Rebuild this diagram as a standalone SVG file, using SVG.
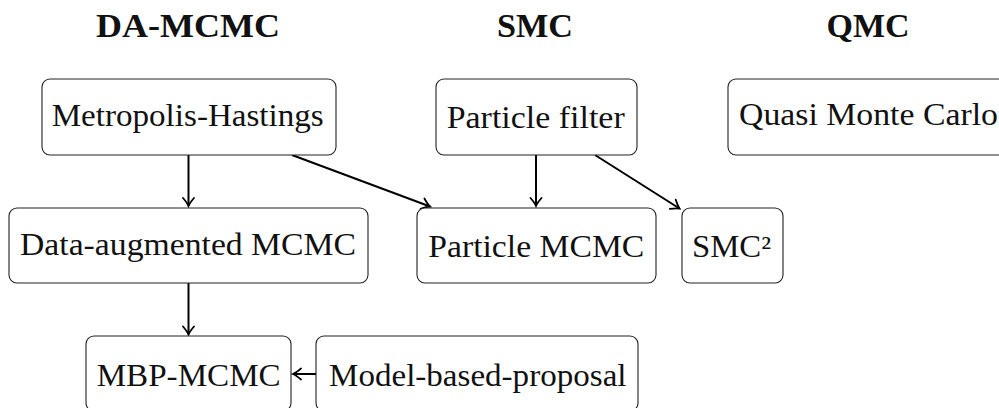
<svg xmlns="http://www.w3.org/2000/svg" width="999" height="408" viewBox="0 0 999 408">
<style>
.box{fill:#fff;stroke:#222;stroke-width:1.1}
.t{font-family:"Liberation Serif","Times New Roman",serif;font-size:31px;fill:#111}
.h{font-family:"Liberation Serif","Times New Roman",serif;font-size:33px;font-weight:bold;fill:#111;text-anchor:middle}
.e{fill:none;stroke:#000;stroke-width:2}
</style>
<defs>
<marker id="arr" markerUnits="userSpaceOnUse" viewBox="-10 -7 12 14" markerWidth="12" markerHeight="14" refX="0" refY="0" orient="auto">
<path d="M-8,-5.5 Q-3,-1.2 0,0 Q-3,1.2 -8,5.5" fill="none" stroke="#000" stroke-width="1.8" stroke-linecap="round"/>
</marker>
</defs>
<rect width="999" height="408" fill="#fff"/>
<g id="headers">
<text class="h" x="188" y="37" textLength="184" lengthAdjust="spacingAndGlyphs">DA-MCMC</text>
<text class="h" x="535" y="37" textLength="76" lengthAdjust="spacingAndGlyphs">SMC</text>
<text class="h" x="868" y="37" textLength="83" lengthAdjust="spacingAndGlyphs">QMC</text>
</g>
<g id="connectors">
<path class="e" d="M188.5,155 L188.5,206" marker-end="url(#arr)"/>
<path class="e" d="M292,155 L430,206.5" marker-end="url(#arr)"/>
<path class="e" d="M536,155 L536,206" marker-end="url(#arr)"/>
<path class="e" d="M595,155 L679.5,208.5" marker-end="url(#arr)"/>
<path class="e" d="M188.5,283 L188.5,334.5" marker-end="url(#arr)"/>
<path class="e" d="M316,374 L293,374" marker-end="url(#arr)"/>
</g>
<g id="mh">
<rect class="box" x="42" y="79" width="294" height="76" rx="8"/>
<text class="t" x="51.7" y="125.7" textLength="272" lengthAdjust="spacingAndGlyphs">Metropolis-Hastings</text>
</g>
<g id="pf">
<rect class="box" x="436" y="79" width="201" height="76" rx="8"/>
<text class="t" x="446.7" y="128.3" textLength="178" lengthAdjust="spacingAndGlyphs">Particle filter</text>
</g>
<g id="qmc">
<rect class="box" x="728" y="79" width="285" height="76" rx="8"/>
<text class="t" x="739" y="125" textLength="259" lengthAdjust="spacingAndGlyphs">Quasi Monte Carlo</text>
</g>
<g id="da">
<rect class="box" x="9" y="208" width="359" height="75" rx="8"/>
<text class="t" x="20" y="255" textLength="336" lengthAdjust="spacingAndGlyphs">Data-augmented MCMC</text>
</g>
<g id="pmcmc">
<rect class="box" x="417" y="208" width="239" height="75" rx="8"/>
<text class="t" x="428.3" y="256.7" textLength="216" lengthAdjust="spacingAndGlyphs">Particle MCMC</text>
</g>
<g id="smc2">
<rect class="box" x="682" y="208" width="101" height="75" rx="8"/>
<text class="t" x="692" y="256.7" textLength="79" lengthAdjust="spacingAndGlyphs">SMC²</text>
</g>
<g id="mbp">
<rect class="box" x="86" y="336" width="205" height="75" rx="8"/>
<text class="t" x="96.7" y="386" textLength="184" lengthAdjust="spacingAndGlyphs">MBP-MCMC</text>
</g>
<g id="model">
<rect class="box" x="316" y="336" width="322" height="75" rx="8"/>
<text class="t" x="329" y="386" textLength="297.5" lengthAdjust="spacingAndGlyphs">Model-based-proposal</text>
</g>
</svg>
